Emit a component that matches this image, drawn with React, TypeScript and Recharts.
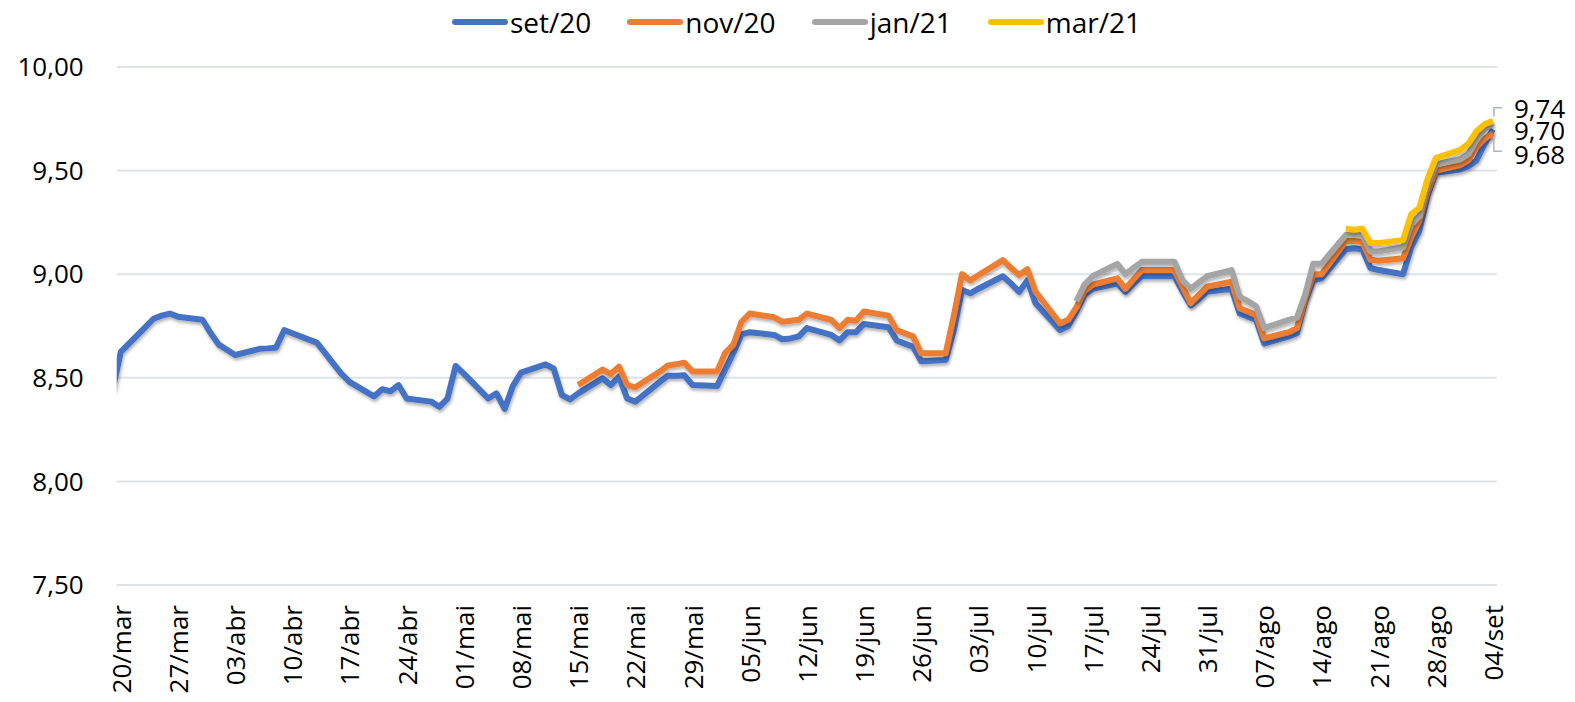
import React from 'react';
import { LineChart, Line, XAxis, YAxis, CartesianGrid } from 'recharts';

// day offsets from 20/mar (weekdays only; -1 = 19/mar, runs off the left edge)
const days = [
  -1, 0,
  3, 4, 5, 6, 7,
  10, 11, 12, 13, 14,
  17, 18, 19, 20, 21,
  24, 25, 26, 27, 28,
  31, 32, 33, 34, 35,
  38, 39, 40, 41, 42,
  45, 46, 47, 48, 49,
  52, 53, 54, 55, 56,
  59, 60, 61, 62, 63,
  66, 67, 68, 69, 70,
  73, 74, 75, 76, 77,
  80, 81, 82, 83, 84,
  87, 88, 89, 90, 91,
  94, 95, 96, 97, 98,
  101, 102, 103, 104, 105,
  108, 109, 110, 111, 112,
  115, 116, 117, 118, 119,
  122, 123, 124, 125, 126,
  129, 130, 131, 132, 133,
  136, 137, 138, 139, 140,
  143, 144, 145, 146, 147,
  150, 151, 152, 153, 154,
  157, 158, 159, 160, 161,
  164, 165, 166, 167, 168,
];

const tickDays = [0, 7, 14, 21, 28, 35, 42, 49, 56, 63, 70, 77, 84, 91, 98, 105, 112, 119, 126, 133, 140, 147, 154, 161, 168];
const tickLabels = [
  '20/mar', '27/mar', '03/abr', '10/abr', '17/abr', '24/abr', '01/mai', '08/mai', '15/mai', '22/mai',
  '29/mai', '05/jun', '12/jun', '19/jun', '26/jun', '03/jul', '10/jul', '17/jul', '24/jul', '31/jul',
  '07/ago', '14/ago', '21/ago', '28/ago', '04/set',
];
const yTicks = [7.5, 8, 8.5, 9, 9.5, 10];

const set20 = [
  8.44, 8.625,
  8.745, 8.785, 8.8, 8.81, 8.795,
  8.78, 8.716, 8.66, 8.635, 8.61,
  8.64, 8.642, 8.645, 8.73, 8.715,
  8.67, 8.62, 8.57, 8.52, 8.48,
  8.41, 8.445, 8.435, 8.465, 8.4,
  8.385, 8.36, 8.4, 8.557, 8.52,
  8.4, 8.425, 8.35, 8.46, 8.525,
  8.565, 8.545, 8.417, 8.396, 8.425,
  8.497, 8.465, 8.505, 8.4, 8.385,
  8.48, 8.51, 8.51, 8.512, 8.465,
  8.46, 8.54, 8.62, 8.71, 8.72,
  8.707, 8.686, 8.69, 8.7, 8.74,
  8.707, 8.68, 8.72, 8.72, 8.76,
  8.744, 8.68, 8.665, 8.65, 8.58,
  8.586, 8.73, 8.924, 8.908, 8.93,
  8.99, 8.955, 8.915, 8.97, 8.86,
  8.73, 8.75, 8.82, 8.9, 8.93,
  8.955, 8.915, 8.955, 8.99, 8.99,
  8.99, 8.917, 8.85, 8.88, 8.915,
  8.93, 8.81, 8.795, 8.78, 8.665,
  8.7, 8.715, 8.87, 8.97, 8.98,
  9.12, 9.125, 9.12, 9.03, 9.02,
  9.0, 9.13, 9.21, 9.38, 9.49,
  9.505, 9.52, 9.55, 9.63, 9.7,
];

// nov/20 starts on 15/mai
const nov20From = 56;
const nov20 = [
  8.465,
  8.54, 8.518, 8.554, 8.465, 8.454,
  8.53, 8.56, 8.565, 8.573, 8.53,
  8.53, 8.62, 8.66, 8.77, 8.81,
  8.792, 8.77, 8.775, 8.78, 8.81,
  8.779, 8.74, 8.78, 8.775, 8.82,
  8.8, 8.73, 8.715, 8.7, 8.618,
  8.618, 8.8, 9.0, 8.97, 8.995,
  9.068, 9.03, 8.996, 9.024, 8.915,
  8.763, 8.78, 8.84, 8.92, 8.95,
  8.98, 8.93, 8.975, 9.02, 9.02,
  9.02, 8.94, 8.86, 8.9, 8.94,
  8.964, 8.835, 8.82, 8.803, 8.69,
  8.72, 8.74, 8.88, 9.0, 9.0,
  9.16, 9.16, 9.155, 9.07, 9.065,
  9.077, 9.18, 9.26, 9.4, 9.5,
  9.527, 9.55, 9.615, 9.655, 9.68,
];

// jan/21 starts on 16/jul
const jan21From = 117;
const jan21 = [
  8.87, 8.95, 8.99,
  9.05, 9.0, 9.03, 9.06, 9.06,
  9.06, 8.97, 8.93, 8.96, 8.99,
  9.02, 8.89, 8.87, 8.845, 8.74,
  8.78, 8.79, 8.9, 9.05, 9.05,
  9.19, 9.19, 9.19, 9.11, 9.11,
  9.13, 9.24, 9.28, 9.43, 9.53,
  9.555, 9.58, 9.65, 9.7, 9.73,
];

// mar/21 starts on 17/ago
const mar21From = 150;
const mar21 = [
  9.22, 9.215, 9.22, 9.15, 9.15,
  9.165, 9.29, 9.32, 9.46, 9.56,
  9.6, 9.63, 9.69, 9.725, 9.74,
];

const seriesFrom = (values: number[], from: number, i: number) => {
  const start = days.indexOf(from);
  return i >= start ? values[i - start] : null;
};

const rows = days.map((day, i) => ({
  day,
  set20: set20[i],
  nov20: seriesFrom(nov20, nov20From, i),
  jan21: seriesFrom(jan21, jan21From, i),
  mar21: seriesFrom(mar21, mar21From, i),
}));

const FONT = '"Open Sans", sans-serif';
const BLUE = '#4472C4';
const ORANGE = '#ED7D31';
const GRAY = '#A5A5A5';
const YELLOW = '#FFC000';
const LEADER = '#A9B6C6';

const legendItems = [
  { name: 'set/20', color: BLUE },
  { name: 'nov/20', color: ORANGE },
  { name: 'jan/21', color: GRAY },
  { name: 'mar/21', color: YELLOW },
];

const fmt = (v: number) => v.toFixed(2).replace('.', ',');

function XTick(props: any) {
  const { x, y, payload } = props;
  const label = tickLabels[tickDays.indexOf(payload.value)];
  return (
    <text
      x={x}
      y={y}
      transform={`rotate(-90 ${x} ${y})`}
      textAnchor="end"
      dominantBaseline="central"
      fontSize={26}
      fontFamily={FONT}
      fill="#000"
    >
      {label}
    </text>
  );
}

// end-of-series value labels, with the bracket-like leader lines
const endLabel = (kind: 'top' | 'mid' | 'bottom') => (props: any) => {
  const { x, y, index, value } = props;
  if (index !== rows.length - 1 || value == null) return null;
  const dy = kind === 'top' ? -13 : kind === 'mid' ? 1 : 21;
  let leader = null;
  if (kind === 'top') leader = `M${x + 1} ${y - 4} V${y - 13} H${x + 9}`;
  if (kind === 'bottom') leader = `M${x + 1} ${y + 4} V${y + 18} H${x + 9}`;
  return (
    <g>
      {leader && <path d={leader} stroke={LEADER} strokeWidth={1.5} fill="none" />}
      <text x={x + 21} y={y + dy} dominantBaseline="central" fontSize={26} fontFamily={FONT} fill="#000">
        {fmt(value)}
      </text>
    </g>
  );
};

export default function App() {
  return (
    <div style={{ position: 'relative', width: 1575, height: 702, fontFamily: FONT, background: '#fff' }}>
      <style>{'body{margin:0}'}</style>
      <div
        style={{
          position: 'absolute',
          top: 5,
          left: 452,
          display: 'flex',
          alignItems: 'center',
          gap: 36,
          fontSize: 28,
          color: '#000',
          lineHeight: '34px',
        }}
      >
        {legendItems.map((it) => (
          <div key={it.name} style={{ display: 'flex', alignItems: 'center' }}>
            <div style={{ width: 56, height: 6, borderRadius: 3, background: it.color, marginRight: 2 }} />
            <span>{it.name}</span>
          </div>
        ))}
      </div>
      <LineChart width={1575} height={702} data={rows} margin={{ top: 67, right: 78, bottom: 0, left: 0 }}>
        <defs>
          <filter id="lineShadow" x="-5%" y="-20%" width="110%" height="140%">
            <feDropShadow dx="1" dy="2.5" stdDeviation="1.5" floodColor="#000" floodOpacity="0.3" />
          </filter>
        </defs>
        <CartesianGrid vertical={false} stroke="#DFE3E8" strokeWidth={2} />
        <XAxis
          dataKey="day"
          type="number"
          domain={[-0.5, 168.5]}
          allowDataOverflow
          ticks={tickDays}
          interval={0}
          tick={<XTick />}
          tickLine={false}
          axisLine={false}
          tickSize={0}
          tickMargin={20}
          height={117}
        />
        <YAxis
          type="number"
          domain={[7.5, 10]}
          ticks={yTicks}
          interval={0}
          tickFormatter={fmt}
          tick={{ fontSize: 26, fontFamily: FONT, fill: '#000' }}
          tickLine={false}
          axisLine={false}
          tickSize={0}
          tickMargin={33}
          width={116.7}
        />
        <Line
          dataKey="set20"
          stroke={BLUE}
          strokeWidth={6}
          dot={false}
          type="linear"
          strokeLinejoin="round"
          filter="url(#lineShadow)"
          isAnimationActive={false}
          label={endLabel('mid')}
        />
        <Line
          dataKey="nov20"
          stroke={ORANGE}
          strokeWidth={6}
          dot={false}
          type="linear"
          strokeLinejoin="round"
          filter="url(#lineShadow)"
          isAnimationActive={false}
          label={endLabel('bottom')}
        />
        <Line
          dataKey="jan21"
          stroke={GRAY}
          strokeWidth={6}
          dot={false}
          type="linear"
          strokeLinejoin="round"
          filter="url(#lineShadow)"
          isAnimationActive={false}
        />
        <Line
          dataKey="mar21"
          stroke={YELLOW}
          strokeWidth={6}
          dot={false}
          type="linear"
          strokeLinejoin="round"
          filter="url(#lineShadow)"
          isAnimationActive={false}
          label={endLabel('top')}
        />
      </LineChart>
    </div>
  );
}
